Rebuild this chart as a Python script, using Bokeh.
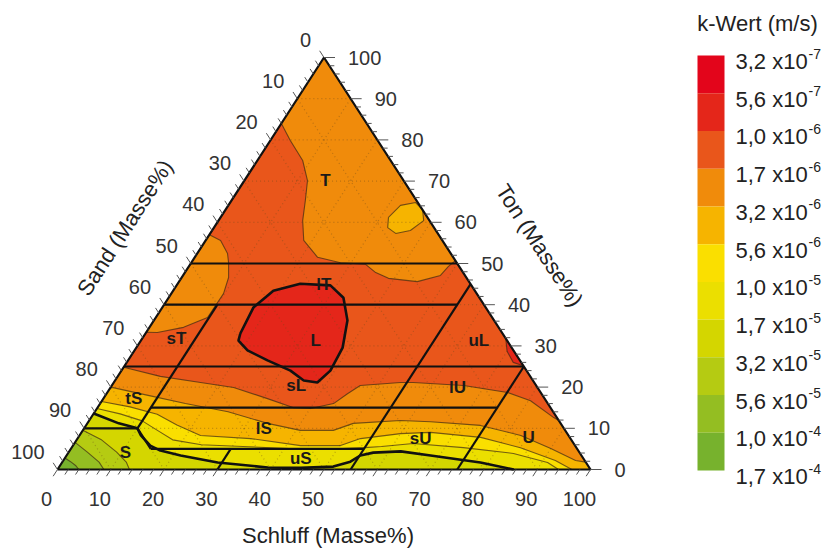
import numpy as np
from bokeh.plotting import figure
from bokeh.layouts import row
from bokeh.models import Range1d, ColumnDataSource
from bokeh.embed import file_html
from bokeh.resources import INLINE
from bokeh.core.properties import value

FONT = "Liberation Sans"

# ---------------- colour classes (k-Wert, m/s) ----------------
k_mantissa = ["3,2", "5,6", "1,0", "1,7", "3,2", "5,6", "1,0", "1,7", "3,2", "5,6", "1,0", "1,7"]
k_exponent = ["-7", "-7", "-6", "-6", "-6", "-6", "-5", "-5", "-5", "-5", "-4", "-4"]
band_colors = ["#E3051B", "#E4261A", "#E9561B", "#F08B0B", "#F6B400", "#FADF00",
               "#EBDF00", "#D4D600", "#B5CB12", "#94BE22", "#77B22D"]

# ---------------- axis ticks ----------------
tick_values = list(range(0, 101, 10))
minor_values = [v for v in range(0, 101, 2) if v % 10 != 0]

# ---------------- soil classes (label positions, Schluff %, Ton %) ----------------
class_names = ["T", "lT", "L", "sT", "uL", "sL", "lU", "tS", "lS", "sU", "U", "S", "uS"]
class_schluff = [15.2, 27.5, 32.8, 6.4, 63.4, 34.6, 65.1, 5.7, 33.7, 64.4, 84.5, 10.7, 44.3]
class_ton = [70.1, 44.9, 31.3, 31.8, 31.3, 20.4, 19.9, 17.2, 10.0, 7.5, 7.8, 4.1, 2.7]

# class boundary segments (Schluff, Ton) start -> end
seg_s0 = [0, 0, 0, 10, 0, 15, 10, 55, 75, 10, 30]
seg_t0 = [50, 40, 25, 15, 10, 5, 10, 0, 0, 10, 0]
seg_s1 = [50, 55, 75, 75, 10, 55, 10, 55, 75, 15, 30]
seg_t1 = [50, 40, 25, 15, 10, 5, 40, 45, 25, 5, 5]

# ---------------- k-value contour boundaries (Schluff %, Ton %) ----------------
# bN = border between band N (redder side) and band N+1
b9_s = [0, 1.5, 3.0, 4.0]
b9_t = [2.8, 1.9, 0.9, 0]
b8_s = [0, 3.5, 6.9, 8.7]
b8_t = [6.6, 4.2, 1.8, 0]
b7_s = [0, 4.5, 9.0, 12.0, 13.5]
b7_t = [9.5, 7.3, 4.2, 1.8, 0]
b6_s = [0, 5.9, 10, 11.5, 14.5, 17, 21.4, 29.2, 39.2, 45.4, 51.4, 54, 55.1, 57.2, 62.2, 68.3, 78.5, 85.6]
b6_t = [13.6, 11.2, 10, 8.3, 5.8, 4.6, 3.4, 1.7, 0.5, 0.4, 0.7, 1.9, 3.4, 4.1, 4.4, 3.4, 1.7, 0]
b5_s = [0, 5, 10, 14, 18, 24, 32, 42, 50, 55, 58, 63.6, 73.5, 83.6, 91.1, 94]
b5_t = [14.8, 13.5, 11.8, 9.5, 7.2, 6.0, 5.6, 5.0, 5.0, 5.3, 5.6, 6.3, 5.3, 3.9, 1.7, 0]
b4_s = [0, 6, 12, 17, 22.7, 32.5, 42.7, 50.2, 53.1, 60, 65.5, 75.5, 84.2, 92.3, 96.5]
b4_t = [16.5, 15.2, 13.4, 10.8, 8.25, 7.5, 5.8, 5.8, 7.5, 8.7, 9.0, 7.8, 5.3, 2.2, 0]
b3_s = [0, 8, 16, 25, 33.8, 40.8, 47, 49.9, 58.4, 64.2, 74, 82.8, 90, 96.1, 98.2]
b3_t = [20, 18, 16, 14, 11.2, 9.5, 9.5, 11.2, 11.9, 11.6, 10.7, 8.25, 5.1, 2.2, 1.8]
b2_s = [0, 8, 16.3, 23.1, 30.8, 36.8, 40.1, 43.8, 45.2, 46.6, 53.8, 56.2, 66, 75.1, 80.4, 86.8, 88.1]
b2_t = [24.8, 22.6, 21.1, 19.9, 17.2, 15.0, 14.8, 16.0, 18.4, 20.4, 21.1, 21.1, 20.4, 18.7, 16.7, 12.6, 11.9]
# upper orange area (T)
top_s = [0, 3.7, 8.5, 11.85, 13.85, 15.8, 18.4, 23.05, 28, 32.9, 35.8, 38.9, 44.7, 48.3, 48.7, 49.3]
top_t = [84, 79.9, 75, 70.1, 65.3, 60.4, 55.6, 51.5, 50.2, 49.8, 47.8, 46.4, 45.6, 47.1, 49.3, 50.7]
# orange lobe on the left edge
lobe_s = [0, 2.8, 5.7, 7.0, 8.8, 9.8, 9.7, 6.4, 2.1, 0]
lobe_t = [57, 55.6, 52.4, 50.2, 46.6, 42.7, 36.9, 34.5, 33.25, 33.3]
# yellow island in T
isle_s = [31.5, 32.3, 34.8, 37.0, 38.5, 37.2, 34.8, 32.6]
isle_t = [61.2, 64.1, 64.8, 63.0, 60.4, 58.0, 57.3, 58.7]
# red core (L)
core_s = [17.8, 17.1, 18.8, 23.0, 28.85, 32.8, 36.3, 38.7, 39.2, 38.2, 35.4, 31.7, 26.15, 21.2, 18.3]
core_t = [33.0, 39.3, 43.4, 45.1, 44.7, 41.7, 36.2, 29.6, 24.0, 21.1, 21.6, 24.0, 26.5, 28.9, 31.3]
# red strip on the Ton edge
strip_s = [68.2, 70.0, 72.5, 74.8]
strip_t = [31.8, 28.7, 26.0, 25.2]


def tern(s, t):
    s = np.asarray(s, dtype=float)
    t = np.asarray(t, dtype=float)
    return (s + t / 2.0).tolist(), t.tolist()


def upper_region(s, t):
    s = list(s)
    t = list(t)
    if t[-1] <= 0.001:
        s += [100.0, 0.0]
        t += [0.0, 100.0]
    else:
        s += [0.0]
        t += [100.0]
    return tern(s, t)


def closed(s, t):
    return tern(list(s) + [s[0]], list(t) + [t[0]])


# ---------------- main ternary figure ----------------
W1, W2, H = 648, 187, 550
SX, SY = 5.33, 4.12
x0 = -57 / SX
ytop = 100 + 57 / SY
p = figure(width=W1, height=H, x_range=Range1d(x0, x0 + W1 / SX),
           y_range=Range1d(ytop - H / SY, ytop), output_backend="svg",
           toolbar_location=None, min_border=0)
p.axis.visible = False
p.grid.visible = False
p.outline_line_color = None
p.background_fill_color = "white"
p.border_fill_color = "white"

pxs, pys, pcs = [], [], []
x, y = tern([0, 100, 0], [0, 0, 100])
pxs.append(x); pys.append(y); pcs.append(band_colors[10])
for idx, s, t in [(9, b9_s, b9_t), (8, b8_s, b8_t), (7, b7_s, b7_t), (6, b6_s, b6_t),
                  (5, b5_s, b5_t), (4, b4_s, b4_t), (3, b3_s, b3_t), (2, b2_s, b2_t),
                  (3, top_s, top_t)]:
    x, y = upper_region(s, t)
    pxs.append(x); pys.append(y); pcs.append(band_colors[idx])
for idx, s, t in [(3, lobe_s, lobe_t), (4, isle_s, isle_t), (1, core_s, core_t), (1, strip_s, strip_t)]:
    x, y = closed(s, t)
    pxs.append(x); pys.append(y); pcs.append(band_colors[idx])
p.patches(xs="xs", ys="ys", fill_color="c", line_color=None,
          source=ColumnDataSource(dict(xs=pxs, ys=pys, c=pcs)))

# dotted grid
gx, gy = [], []
for v in range(10, 100, 10):
    for s, t in [([0, 100 - v], [v, v]), ([v, v], [0, 100 - v]), ([100 - v, 0], [0, 100 - v])]:
        x, y = tern(s, t)
        gx.append(x); gy.append(y)
p.multi_line(gx, gy, line_color="#6b4a1e", line_alpha=0.4, line_width=1.2, line_dash="1 3")

# thin contour lines
tx, ty = [], []
for s, t in [(b9_s, b9_t), (b8_s, b8_t), (b7_s, b7_t), (b5_s, b5_t), (b4_s, b4_t),
             (b3_s, b3_t), (b2_s, b2_t), (top_s, top_t), (lobe_s, lobe_t), (strip_s, strip_t)]:
    x, y = tern(s, t)
    tx.append(x); ty.append(y)
x, y = closed(isle_s, isle_t)
tx.append(x); ty.append(y)
p.multi_line(tx, ty, line_color="#3d2a14", line_alpha=0.7, line_width=1.1)

# bold contour lines
bx, by = [], []
x, y = tern(b6_s, b6_t); bx.append(x); by.append(y)
x, y = closed(core_s, core_t); bx.append(x); by.append(y)
p.multi_line(bx, by, line_color="#111111", line_width=2.6)

# class boundaries
cx, cy = [], []
for a, b, c, d in zip(seg_s0, seg_t0, seg_s1, seg_t1):
    x, y = tern([a, c], [b, d])
    cx.append(x); cy.append(y)
p.multi_line(cx, cy, line_color="#111111", line_width=2.2)

# triangle outline
x, y = tern([0, 100, 0, 0], [0, 0, 100, 0])
p.line(x, y, line_color="#111111", line_width=2.2)

# ticks
kx, ky = [], []
for v in tick_values + minor_values:
    maj = v in tick_values
    d = (8 if maj else 6) / 4.907
    kx.append([v, v - d / 2]); ky.append([0, -d])                      # Schluff
    a = (100 - v) / 2.0
    kx.append([a, a - d / 2]); ky.append([100 - v, 100 - v + d])        # Sand
    dr = (11 if maj else 5) / SX
    kx.append([100 - v / 2.0, 100 - v / 2.0 + dr]); ky.append([v, v])   # Ton
p.multi_line(kx, ky, line_color="#555555", line_width=1)

lbl = [str(v) for v in tick_values]
tv = np.array(tick_values, dtype=float)
p.text(x=tv, y=np.zeros_like(tv), text=lbl, x_offset=-11, y_offset=29,
       text_align="center", text_baseline="middle", text_font=value(FONT),
       text_font_size="20px", text_color="#333333")
p.text(x=(100 - tv) / 2.0, y=100 - tv, text=lbl, x_offset=-13, y_offset=-18,
       text_align="right", text_baseline="middle", text_font=value(FONT),
       text_font_size="20px", text_color="#333333")
p.text(x=100 - tv / 2.0, y=tv, text=lbl, x_offset=24, y_offset=0,
       text_align="left", text_baseline="middle", text_font=value(FONT),
       text_font_size="20px", text_color="#333333")

# axis titles
ang = float(np.arctan2(412, 266.5))
p.text(x=[50.75], y=[-16.0], text=["Schluff (Masse%)"], text_align="center",
       text_baseline="middle", text_font=value(FONT), text_font_size="22px", text_color="#222222")
p.text(x=[12.66], y=[58.7], text=["Sand (Masse%)"], angle=ang, text_align="center",
       text_baseline="middle", text_font=value(FONT), text_font_size="22px", text_color="#222222")
p.text(x=[90.43], y=[54.4], text=["Ton (Masse%)"], angle=-ang, text_align="center",
       text_baseline="middle", text_font=value(FONT), text_font_size="22px", text_color="#222222")

# class labels
lx, ly = tern(class_schluff, class_ton)
p.text(x=lx, y=ly, text=class_names, text_align="center", text_baseline="middle",
       text_font=value(FONT), text_font_size="17px", text_font_style="bold", text_color="#1a1a1a")

# ---------------- colour bar ----------------
cb_top = -55 / 37.73
cb = figure(width=W2, height=H, x_range=Range1d(0, W2), y_range=Range1d(cb_top + H / 37.73, cb_top),
            output_backend="svg", toolbar_location=None, min_border=0)
cb.axis.visible = False
cb.grid.visible = False
cb.outline_line_color = None
cb.background_fill_color = "white"
cb.border_fill_color = "white"
n = len(band_colors)
cb.quad(left=49, right=76, top=list(range(n)), bottom=[i + 1 for i in range(n)],
        fill_color=band_colors, line_color=None)
ky_ = list(range(len(k_mantissa)))
cb.text(x=[87] * len(ky_), y=ky_, text=[m + " x10" for m in k_mantissa], y_offset=6,
        text_align="left", text_baseline="middle", text_font=value(FONT),
        text_font_size="22px", text_color="#222222")
cb.text(x=[160] * len(ky_), y=ky_, text=k_exponent, y_offset=-2,
        text_align="left", text_baseline="middle", text_font=value(FONT),
        text_font_size="14px", text_color="#222222")
cb.text(x=[109], y=[cb_top + 23 / 37.73], text=["k-Wert (m/s)"], text_align="center",
        text_baseline="middle", text_font=value(FONT), text_font_size="22px", text_color="#222222")

layout = row(p, cb)
open("out.html", "w").write(file_html(layout, INLINE))
